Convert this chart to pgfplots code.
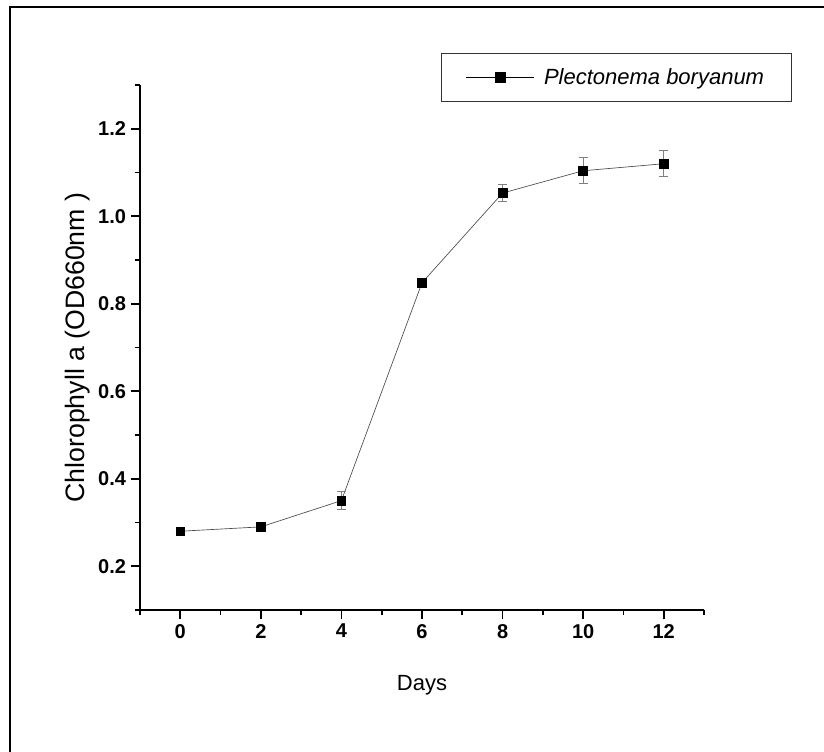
\documentclass[border=0pt]{standalone}
\usepackage{fontspec}
\setmainfont{Liberation Sans}
\usepackage{pgfplots}
\pgfplotsset{compat=1.18}

\pgfplotstableread{
x   y      e
0   0.280  0.008
2   0.290  0.008
4   0.350  0.020
6   0.848  0.010
8   1.053  0.020
10  1.104  0.030
12  1.120  0.030
}\chla

\begin{document}
\begin{tikzpicture}[x=1pt,y=1pt]
\useasboundingbox (0,0) rectangle (618,564);
% outer frame, only left and top edges fall inside the picture
\draw[line width=1.5pt] (7.5,-20) -- (7.5,558.75) -- (650,558.75);
\begin{axis}[
  at={(105pt,106.5pt)}, anchor=south west,
  scale only axis, width=423pt, height=393.75pt,
  xmin=-1, xmax=13, ymin=0.1, ymax=1.3,
  axis lines=left, axis line style={-, line width=1.2pt},
  xtick={0,2,4,6,8,10,12}, minor xtick={-1,1,3,5,7,9,11,13},
  ytick={0.2,0.4,0.6,0.8,1.0,1.2}, minor ytick={0.1,0.3,0.5,0.7,0.9,1.1,1.3},
  tick align=outside, major tick length=7pt, minor tick length=4pt,
  major tick style={black, line width=1.2pt},
  minor tick style={black, line width=1.2pt},
  /pgf/number format/assume math mode=true,
  ticklabel style={font=\fontsize{15}{18}\selectfont\bfseries},
  yticklabel style={/pgf/number format/.cd, fixed, fixed zerofill, precision=1},
  xlabel={Days}, ylabel={Chlorophyll a (OD660nm )},
  xlabel style={font=\fontsize{16.5}{20}\selectfont,
    at={(axis description cs:0.5,0)}, anchor=center, yshift=-56.5pt},
  ylabel style={font=\fontsize{20}{24}\selectfont,
    at={(axis description cs:-0.11,0.5)}, anchor=center},
  legend style={at={(1.156,1.061)}, anchor=north east, draw=black!80,
    line width=0.8pt, font=\fontsize{16.5}{20}\selectfont\itshape,
    inner xsep=18.5pt, inner ysep=9.4pt, cells={anchor=west}},
  legend image code/.code={
    \draw[black, line width=0.6pt] (0pt,0pt) -- (51pt,0pt);
    \fill[black] (21.75pt,-3.75pt) rectangle (29.25pt,3.75pt);
    \path (56pt,0pt);
  },
]
\addplot[black!70, line width=0.5pt, mark=square*, mark size=3.3pt,
  mark options={solid, black},
  error bars/.cd, y dir=both, y explicit,
  error bar style={gray, line width=0.8pt},
  error mark options={rotate=90, mark size=3.4pt, gray, line width=0.8pt}]
  table[x=x, y=y, y error=e] {\chla};
\addlegendentry{Plectonema boryanum}
\end{axis}
\end{tikzpicture}
\end{document}
